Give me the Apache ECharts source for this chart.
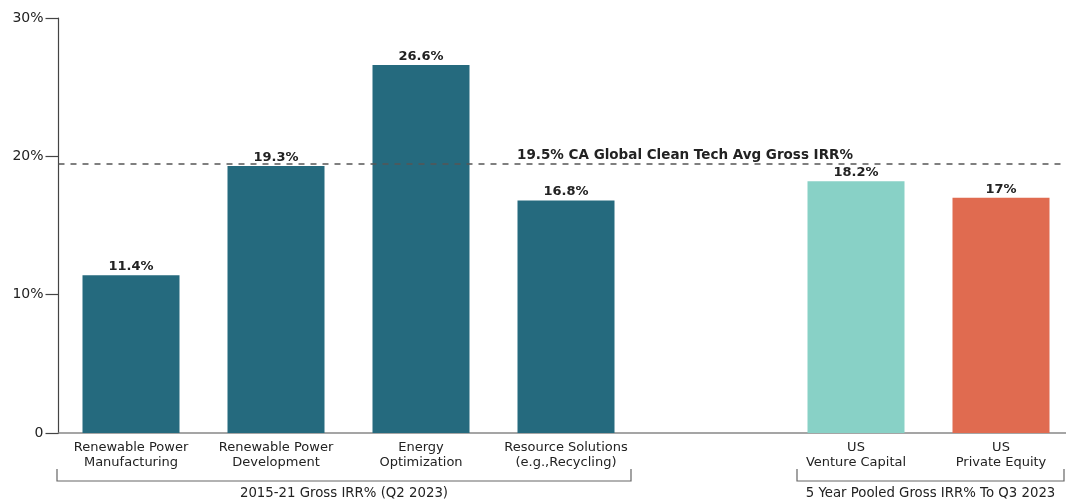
<!DOCTYPE html>
<html>
<head>
<meta charset="UTF-8">
<script src="https://cdn.jsdelivr.net/npm/echarts@6/dist/echarts.min.js"></script>
<style type="text/css">
html, body { margin: 0; padding: 0; background: #fff; }
#main { width: 1066px; height: 503px; }
</style>
</head>
<body>
<div id="main"></div>
<script type="text/javascript">
// categories (one empty slot between the two groups)
var categories = ['Renewable Power\nManufacturing', 'Renewable Power\nDevelopment', 'Energy\nOptimization',
	'Resource Solutions\n(e.g.,Recycling)', '', 'US\nVenture Capital', 'US\nPrivate Equity'];
var irrValues = [11.4, 19.3, 26.6, 16.8, '-', 18.2, 17];
var barColors = ['#256a7e', '#256a7e', '#256a7e', '#256a7e', '#256a7e', '#88d1c6', '#e06b50'];
var avgLine = 19.5;
var avgLabel = '19.5% CA Global Clean Tech Avg Gross IRR%';
var groupLabels = ['2015-21 Gross IRR% (Q2 2023)', '5 Year Pooled Gross IRR% To Q3 2023'];

var font = '"DejaVu Sans", "Noto Sans", sans-serif';
var myChart = echarts.init(document.getElementById('main'));

var barData = irrValues.map(function (v, i) {
	return { value: v, itemStyle: { color: barColors[i] } };
});

// bracket under a group of categories
function bracket(x1, x2, text) {
	return [
		{ type: 'polyline', shape: { points: [[x1, 469], [x1, 481], [x2, 481], [x2, 469]] },
		  style: { stroke: '#666', lineWidth: 1.2, fill: null } },
		{ type: 'text', x: (x1 + x2) / 2, y: 494,
		  style: { text: text, font: '13.3px ' + font, fill: '#222', align: 'center', verticalAlign: 'middle' } }
	];
}

var option = {
	animation: false,
	grid: { left: 58.5, top: 18, width: 1015, bottom: 70, outerBoundsMode: 'none', containLabel: false },
	xAxis: {
		type: 'category',
		data: categories,
		axisLine: { lineStyle: { color: '#888', width: 1.5 } },
		axisTick: { show: false },
		axisLabel: { color: '#222', fontSize: 13, fontFamily: font, lineHeight: 15, margin: 7, interval: 0 }
	},
	yAxis: {
		type: 'value',
		min: 0, max: 30, interval: 10,
		splitLine: { show: false },
		axisLine: { show: true, lineStyle: { color: '#444', width: 1.2 } },
		axisTick: { show: true, length: 13, lineStyle: { color: '#444', width: 1.2 } },
		axisLabel: {
			color: '#222', fontSize: 14, fontFamily: font, margin: 15,
			formatter: function (v) { return v === 0 ? '0' : v + '%'; }
		}
	},
	series: [{
		type: 'bar',
		data: barData,
		barWidth: 97,
		label: {
			show: true, position: 'top', distance: 2,
			color: '#222', fontSize: 13, fontWeight: 'bold', fontFamily: font,
			formatter: '{c}%'
		},
		markLine: {
			symbol: 'none',
			silent: true,
			lineStyle: { color: '#555', type: [6, 6], width: 1.5 },
			label: {
				show: true, position: 'middle', formatter: avgLabel,
				offset: [119, 4],
				color: '#222', fontSize: 13.5, fontWeight: 'bold', fontFamily: font
			},
			data: [{ yAxis: avgLine }]
		}
	}],
	graphic: bracket(57, 631, groupLabels[0]).concat(bracket(797, 1064, groupLabels[1]))
};
myChart.setOption(option);
</script>
</body>
</html>
